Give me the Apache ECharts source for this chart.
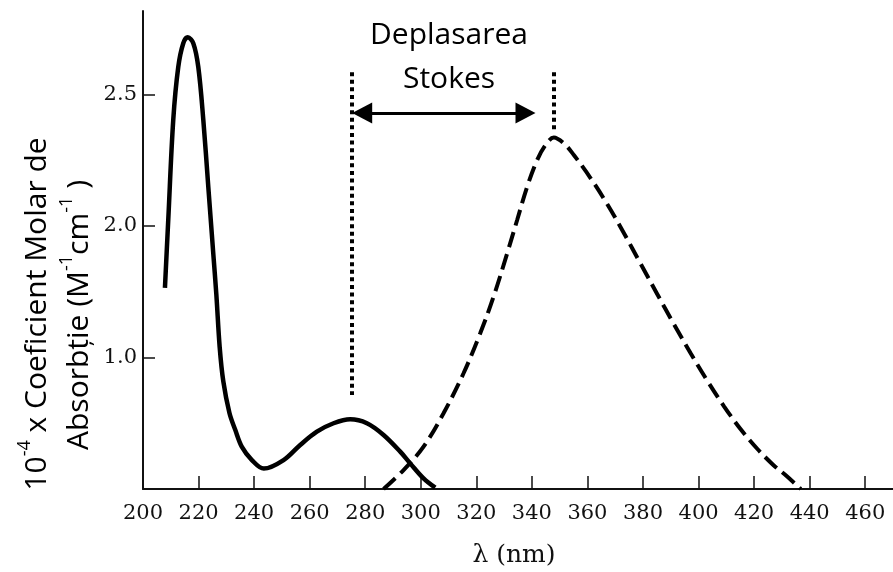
<!DOCTYPE html>
<html>
<head>
<meta charset="utf-8">
<script src="https://cdn.jsdelivr.net/npm/echarts@6/dist/echarts.min.js"></script>
<style>
  html, body { margin: 0; padding: 0; background: #fff; }
  #chart { width: 893px; height: 572px; }
</style>
</head>
<body>
<div id="chart"></div>
<script>
// Absorption spectrum (solid line): wavelength in nm, value in plot units
const absWavelength = [207.9, 209.1, 210.9, 212.7, 214.5, 216.1, 218.1, 219.9, 221.7, 223.5,
  225.3, 226.4, 227.6, 228.9, 231.1, 233.2, 235.6, 239.2, 243.5,
  250.6, 256.6, 262.6, 268.6, 274.6, 280.6, 286.6, 292.6, 296.2, 301.0, 305.2];
const absValue = [1.53, 2.05, 2.81, 3.21, 3.39, 3.435, 3.39, 3.21, 2.81, 2.30,
  1.79, 1.48, 1.08, 0.82, 0.58, 0.45, 0.32, 0.22, 0.155,
  0.22, 0.335, 0.436, 0.50, 0.53, 0.50, 0.411, 0.284, 0.195, 0.081, 0.01];

// Emission spectrum (dashed line)
const emWavelength = [286.6, 293.8, 301.0, 308.2, 315.4, 321.4, 326.2, 331.1, 334.7, 338.3,
  341.9, 344.9, 347.9, 351.5, 355.1, 361.1, 367.1, 373.1, 379.1, 385.1,
  391.1, 397.1, 403.1, 409.1, 415.1, 421.2, 427.1, 431.7, 436.8];
const emValue = [0, 0.144, 0.322, 0.576, 0.88, 1.184, 1.462, 1.792, 2.046, 2.299,
  2.502, 2.616, 2.673, 2.628, 2.540, 2.365, 2.167, 1.947, 1.715, 1.483,
  1.255, 1.034, 0.825, 0.631, 0.456, 0.304, 0.179, 0.099, 0];

// Axis ticks and their printed labels
const xTickValues = [220, 240, 260, 280, 300, 320, 340, 360, 380, 400, 420, 440, 460];
const xLabelValues = [200, 220, 240, 260, 280, 300, 320, 340, 360, 380, 400, 420, 440, 460];
const yTickValues = [1, 2, 3];
const yTickLabels = ['1.0', '2.0', '2.5'];

// Stokes shift annotation: absorption and emission maxima
const absPeakNm = 275;
const emPeakNm = 347.9;
const guideTop = 3.17;
const absGuideBottom = 0.715;
const emGuideBottom = 2.71;
const arrowLevel = 2.86;
const arrowFrom = 278.9;
const arrowTo = 337.7;

const zip = (xs, ys) => xs.map((x, i) => [x, ys[i]]);

const serif = '"DejaVu Serif", "Liberation Serif", serif';
const sans = '"Open Sans", "Noto Sans", sans-serif';

const chart = echarts.init(document.getElementById('chart'), null, { renderer: 'canvas' });

chart.setOption({
  backgroundColor: '#ffffff',
  animation: false,
  grid: { left: 143, right: 0, top: 11, bottom: 83, containLabel: false },
  xAxis: {
    type: 'value',
    min: 200,
    max: 470,
    interval: 20,
    axisLine: { show: true, lineStyle: { color: '#111', width: 2 } },
    axisTick: { show: true, inside: true, length: 13, customValues: xTickValues,
      lineStyle: { color: '#111', width: 1.5 } },
    axisLabel: { show: true, customValues: xLabelValues, margin: 14,
      fontFamily: serif, fontSize: 21, color: '#111' },
    splitLine: { show: false }
  },
  yAxis: {
    type: 'value',
    min: 0,
    max: 3.635,
    interval: 1,
    axisLine: { show: true, lineStyle: { color: '#111', width: 2 } },
    axisTick: { show: true, inside: true, length: 12, customValues: yTickValues,
      lineStyle: { color: '#111', width: 1.5 } },
    axisLabel: { show: true, customValues: yTickValues, margin: 6,
      fontFamily: serif, fontSize: 21, color: '#111',
      formatter: (v) => yTickLabels[yTickValues.indexOf(Math.round(v))] || '' },
    splitLine: { show: false }
  },
  series: [
    {
      name: 'absorbție',
      type: 'line',
      data: zip(absWavelength, absValue),
      smooth: 0.35,
      showSymbol: false,
      lineStyle: { color: '#000', width: 4.5, cap: 'butt' },
      markLine: {
        silent: true,
        animation: false,
        label: { show: false },
        emphasis: { disabled: true },
        data: [
          [
            { coord: [absPeakNm, guideTop], symbol: 'none',
              lineStyle: { color: '#000', width: 4, type: [4, 3.6] } },
            { coord: [absPeakNm, absGuideBottom], symbol: 'none' }
          ],
          [
            { coord: [emPeakNm, guideTop], symbol: 'none',
              lineStyle: { color: '#000', width: 4, type: [4, 3.6] } },
            { coord: [emPeakNm, emGuideBottom], symbol: 'none' }
          ],
          [
            { coord: [arrowFrom, arrowLevel], symbol: 'triangle', symbolSize: [21, 20],
              lineStyle: { color: '#000', width: 3, type: 'solid' },
              itemStyle: { color: '#000' } },
            { coord: [arrowTo, arrowLevel], symbol: 'triangle', symbolSize: [21, 20],
              itemStyle: { color: '#000' } }
          ]
        ]
      }
    },
    {
      name: 'emisie',
      type: 'line',
      data: zip(emWavelength, emValue),
      smooth: 0.35,
      showSymbol: false,
      lineStyle: { color: '#000', width: 4, type: [16, 7], cap: 'butt' }
    }
  ],
  graphic: [
    {
      type: 'text', x: 449, y: 35,
      style: { text: 'Deplasarea', font: '30px ' + sans, fill: '#000',
        align: 'center', verticalAlign: 'middle' }
    },
    {
      type: 'text', x: 449, y: 79,
      style: { text: 'Stokes', font: '30px ' + sans, fill: '#000',
        align: 'center', verticalAlign: 'middle' }
    },
    {
      type: 'text', x: 514, y: 555,
      style: { text: 'λ (nm)', font: '25px ' + serif, fill: '#111',
        align: 'center', verticalAlign: 'middle' }
    },
    {
      type: 'text', x: 34, y: 314, rotation: Math.PI / 2,
      style: {
        text: '{m|10}{s|-4}{m| x Coeficient Molar de}',
        align: 'center', verticalAlign: 'middle',
        rich: {
          m: { fontFamily: sans, fontSize: 30, fill: '#000', lineHeight: 36, verticalAlign: 'bottom' },
          s: { fontFamily: sans, fontSize: 18, fill: '#000', lineHeight: 36, verticalAlign: 'top' }
        }
      }
    },
    {
      type: 'text', x: 76, y: 315, rotation: Math.PI / 2,
      style: {
        text: '{m|Absorbție (M}{s|-1}{m|cm}{s|-1}{m| )}',
        align: 'center', verticalAlign: 'middle',
        rich: {
          m: { fontFamily: sans, fontSize: 30, fill: '#000', lineHeight: 36, verticalAlign: 'bottom' },
          s: { fontFamily: sans, fontSize: 18, fill: '#000', lineHeight: 36, verticalAlign: 'top' }
        }
      }
    }
  ]
});
</script>
</body>
</html>
